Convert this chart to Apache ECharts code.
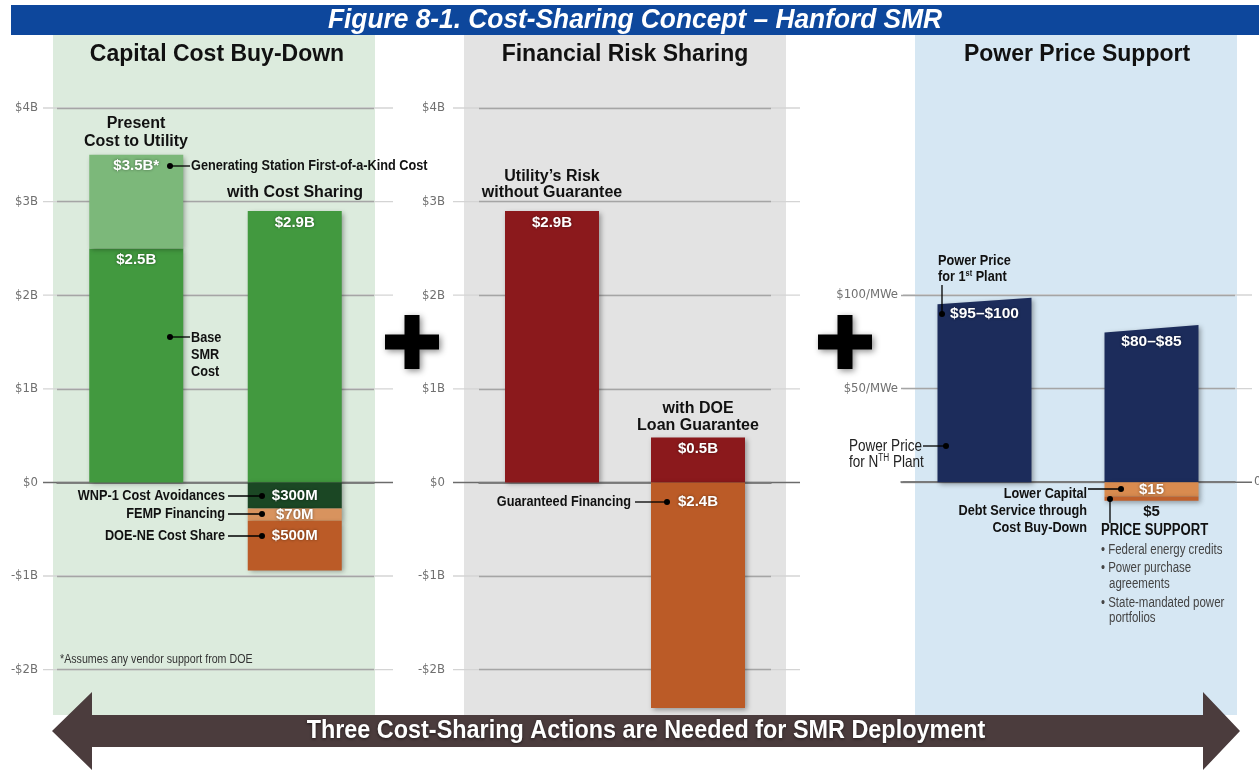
<!DOCTYPE html>
<html>
<head>
<meta charset="utf-8">
<title>Figure 8-1. Cost-Sharing Concept – Hanford SMR</title>
<script src="https://cdn.jsdelivr.net/npm/echarts@6/dist/echarts.min.js"></script>
<style>
  html, body { margin: 0; padding: 0; background: #fff; }
  #chart { width: 1259px; height: 770px; }
</style>
</head>
<body>
<div id="chart"></div>
<script>
// values (bars are drawn as in the picture, not strictly to the printed labels)
const capitalCategories = ['Present Cost to Utility', 'with Cost Sharing'];
const baseSmrCost = [2.5, 2.9];
const firstOfAKindCost = [1.0, null];
const wnp1Avoidance = [null, -0.28];
const fempFinancing = [null, -0.13];
const doeNeCostShare = [null, -0.53];
const baseLabels = ['$2.5B', '$2.9B'];
const foakLabels = ['$3.5B*', ''];
const wnp1Labels = ['', '$300M'];
const fempLabels = ['', '$70M'];
const doeNeLabels = ['', '$500M'];

const riskCategories = ['Utility\u2019s Risk without Guarantee', 'with DOE Loan Guarantee'];
const utilityRisk = [2.9, 0.48];
const guaranteedFinancing = [null, -2.41];
const riskLabels = ['$2.9B', '$0.5B'];
const guaranteedLabels = ['', '$2.4B'];

const priceCategories = ['Power Price for 1st Plant', 'Power Price for Nth Plant'];
const priceTopLeft = [95, 80];
const priceTopRight = [98.5, 84];
const priceLabels = ['$95\u2013$100', '$80\u2013$85'];
const debtServiceCut = [null, -7.7];
const priceSupport = [null, -2.2];
const debtServiceLabels = ['', '$15'];
const priceSupportLabels = ['', '$5'];

const billionTicks = [-2, -1, 0, 1, 2, 3, 4];
const billionTickLabels = ['-$2B', '-$1B', '$0', '$1B', '$2B', '$3B', '$4B'];
const priceTicks = [0, 50, 100];
const priceTickLabels = ['', '$50/MWe', '$100/MWe'];

const SANS = '"Liberation Sans", Arial, sans-serif';
const COND = '"DejaVu Sans Condensed", "Liberation Sans", sans-serif';
const NARROW_X = 0.82; // Liberation Sans squeezed to stand in for Arial Narrow
const GREEN = '#42993f', LIGHT_GREEN = '#7cb87a', DARK_GREEN = '#1b4724';
const ORANGE = '#bb5b27', LIGHT_ORANGE = '#d8935e', RED = '#8b191c', NAVY = '#1c2c5b';

const chart = echarts.init(document.getElementById('chart'));

const shadow = { shadowBlur: 5, shadowColor: 'rgba(0,0,0,0.35)', shadowOffsetX: 2, shadowOffsetY: 2 };

function barLabel(texts, position, distance, color) {
  return {
    show: true, position, distance,
    formatter: p => texts[p.dataIndex] || '',
    color: color || '#fff', fontFamily: SANS, fontWeight: 'bold', fontSize: 15,
    textShadowColor: 'rgba(0,0,0,0.45)', textShadowBlur: 3
  };
}
function bar(name, data, color, axis, stack, label) {
  return {
    name, type: 'bar', data, stack, barWidth: 94, clip: false,
    xAxisIndex: axis, yAxisIndex: axis,
    itemStyle: Object.assign({ color }, shadow),
    label
  };
}
function tickFormatter(values, labels) {
  return v => { const i = values.indexOf(v); return i < 0 ? '' : labels[i]; };
}
function yAxis(grid, min, max, interval, values, labels, margin) {
  return {
    type: 'value', gridIndex: grid, min, max, interval,
    axisLabel: { formatter: tickFormatter(values, labels), color: '#707070', fontFamily: COND, fontSize: 13, margin },
    axisLine: { show: false }, axisTick: { show: false },
    splitLine: { lineStyle: { color: '#a5a5a5', width: 1.3 } }
  };
}
function xAxis(grid, data) {
  return {
    type: 'category', gridIndex: grid, data,
    axisLabel: { show: false }, axisTick: { show: false },
    axisLine: { onZero: true, lineStyle: { color: '#6b6b6b', width: 1.5 } }
  };
}

// ---- static drawing: panels, titles, annotations ----
function txt(x, y, text, font, fill, align, extra) {
  return Object.assign({
    type: 'text', x, y, z: 50,
    style: { text, font, fill: fill || '#111', textAlign: align || 'center', textVerticalAlign: 'middle' }
  }, extra || {});
}
// narrow text: Arial-metric font squeezed horizontally
function ntxt(x, y, text, size, bold, fill, align, rich) {
  const el = txt(x, y, text, (bold ? 'bold ' : '') + size + 'px ' + SANS, fill, align, { scaleX: NARROW_X });
  if (rich) el.style.rich = rich;
  return el;
}
function dot(x, y) { return { type: 'circle', z: 50, shape: { cx: x, cy: y, r: 3 }, style: { fill: '#000' } }; }
function seg(x1, y1, x2, y2) { return { type: 'line', z: 50, shape: { x1, y1, x2, y2 }, style: { stroke: '#000', lineWidth: 1.3 } }; }
function plus(cx, cy) {
  const a = 27, t = 7.5;
  return {
    type: 'polygon', z: 50,
    shape: { points: [[cx - t, cy - a], [cx + t, cy - a], [cx + t, cy - t], [cx + a, cy - t], [cx + a, cy + t], [cx + t, cy + t],
      [cx + t, cy + a], [cx - t, cy + a], [cx - t, cy + t], [cx - a, cy + t], [cx - a, cy - t], [cx - t, cy - t]] },
    style: { fill: '#000', shadowBlur: 6, shadowColor: 'rgba(0,0,0,0.45)', shadowOffsetX: 2, shadowOffsetY: 2 }
  };
}
const B16 = 'bold 16px ' + SANS;
const supB = { sup: { font: 'bold 9px ' + SANS, fill: '#111', padding: [0, 0, 7, 0] } };
const supR = { sup: { font: '10px ' + SANS, fill: '#222', padding: [0, 0, 7, 0] } };

const graphics = [
  { type: 'rect', z: -10, shape: { x: 11, y: 5, width: 1248, height: 30 }, style: { fill: '#0d479c' } },
  txt(635, 20, 'Figure 8-1. Cost-Sharing Concept \u2013 Hanford SMR', 'italic bold 28px ' + SANS, '#fff', 'center', { scaleX: 0.94 }),
  { type: 'rect', z: -10, shape: { x: 53, y: 35, width: 322, height: 680 }, style: { fill: '#dcebdd' } },
  { type: 'rect', z: -10, shape: { x: 464, y: 35, width: 322, height: 680 }, style: { fill: '#e3e3e3' } },
  { type: 'rect', z: -10, shape: { x: 915, y: 35, width: 322, height: 680 }, style: { fill: '#d6e7f3' } },
  txt(217, 55, 'Capital Cost Buy-Down', 'bold 23px ' + SANS, '#111'),
  txt(625, 55, 'Financial Risk Sharing', 'bold 23px ' + SANS, '#111'),
  txt(1077, 55, 'Power Price Support', 'bold 23px ' + SANS, '#111'),
  plus(412, 342), plus(845, 342),

  // capital cost buy-down notes
  txt(136, 124, 'Present', B16), txt(136, 142, 'Cost to Utility', B16),
  dot(170, 166), seg(170, 166, 190, 166),
  ntxt(191, 166, 'Generating Station First-of-a-Kind Cost', 15.5, true, '#111', 'left'),
  txt(295, 193, 'with Cost Sharing', B16),
  dot(170, 337), seg(170, 337, 190, 337),
  ntxt(191, 338, 'Base', 15.5, true, '#111', 'left'), ntxt(191, 355, 'SMR', 15.5, true, '#111', 'left'),
  ntxt(191, 372, 'Cost', 15.5, true, '#111', 'left'),
  dot(262, 496), seg(228, 496, 262, 496), ntxt(225, 496, 'WNP-1 Cost Avoidances', 15.5, true, '#111', 'right'),
  dot(262, 514), seg(228, 514, 262, 514), ntxt(225, 514, 'FEMP Financing', 15.5, true, '#111', 'right'),
  dot(262, 536), seg(228, 536, 262, 536), ntxt(225, 536, 'DOE-NE Cost Share', 15.5, true, '#111', 'right'),
  ntxt(60, 659, '*Assumes any vendor support from DOE', 13, false, '#333', 'left'),

  // financial risk notes
  txt(552, 177, 'Utility\u2019s Risk', B16), txt(552, 193, 'without Guarantee', B16),
  txt(698, 409, 'with DOE', B16), txt(698, 426, 'Loan Guarantee', B16),
  dot(667, 502), seg(635, 502, 667, 502), ntxt(631, 502, 'Guaranteed Financing', 15.5, true, '#111', 'right'),

  // power price notes
  ntxt(938, 261, 'Power Price', 15.5, true, '#111', 'left'),
  ntxt(938, 277, 'for 1{sup|st} Plant', 15.5, true, '#111', 'left', supB),
  seg(942, 285, 942, 314), dot(942, 314),
  ntxt(849, 446, 'Power Price', 16.5, false, '#222', 'left'),
  ntxt(849, 462, 'for N{sup|TH} Plant', 16.5, false, '#222', 'left', supR),
  seg(923, 446, 946, 446), dot(946, 446),
  dot(1121, 489), seg(1088, 489, 1121, 489),
  ntxt(1087, 494, 'Lower Capital', 15.5, true, '#111', 'right'),
  ntxt(1087, 511, 'Debt Service through', 15.5, true, '#111', 'right'),
  ntxt(1087, 528, 'Cost Buy-Down', 15.5, true, '#111', 'right'),
  dot(1110, 499), seg(1110, 499, 1110, 523),
  ntxt(1101, 531, 'PRICE SUPPORT', 16, true, '#111', 'left'),
  ntxt(1101, 550, '\u2022 Federal energy credits', 14, false, '#444', 'left'),
  ntxt(1101, 568, '\u2022 Power purchase', 14, false, '#444', 'left'),
  ntxt(1109, 584, 'agreements', 14, false, '#444', 'left'),
  ntxt(1101, 603, '\u2022 State-mandated power', 14, false, '#444', 'left'),
  ntxt(1109, 618, 'portfolios', 14, false, '#444', 'left'),
  txt(1254, 482, '0', '13px ' + COND, '#707070', 'left'),

  // bottom arrow
  { type: 'polygon', z: 60,
    shape: { points: [[52, 731], [92, 692], [92, 715], [1203, 715], [1203, 692], [1240, 731], [1203, 770], [1203, 747], [92, 747], [92, 770]] },
    style: { fill: '#4b3c3d' } },
  txt(646, 731, 'Three Cost-Sharing Actions are Needed for SMR Deployment', 'bold 26px ' + SANS, '#fff', 'center',
    { z: 61, scaleX: 0.9 })
];
graphics[graphics.length - 1].style.textShadowColor = 'rgba(0,0,0,0.6)';
graphics[graphics.length - 1].style.textShadowBlur = 3;
graphics[graphics.length - 1].style.textShadowOffsetY = 1;

const option = {
  animation: false,
  backgroundColor: '#fff',
  grid: [
    { left: 57, top: 108, width: 317, height: 561.6 },
    { left: 479, top: 108, width: 292, height: 561.6 },
    { left: 901, top: 295, width: 334, height: 187.2 }
  ],
  xAxis: [xAxis(0, capitalCategories), xAxis(1, riskCategories), xAxis(2, priceCategories)],
  yAxis: [
    yAxis(0, -2, 4, 1, billionTicks, billionTickLabels, 19),
    yAxis(1, -2, 4, 1, billionTicks, billionTickLabels, 34),
    yAxis(2, 0, 100, 50, priceTicks, priceTickLabels, 3)
  ],
  series: [
    bar('Base SMR Cost', baseSmrCost, GREEN, 0, 'cap', barLabel(baseLabels, 'insideTop', 4)),
    bar('First-of-a-Kind Cost', firstOfAKindCost, LIGHT_GREEN, 0, 'cap', barLabel(foakLabels, 'insideTop', 4)),
    bar('WNP-1 Cost Avoidances', wnp1Avoidance, DARK_GREEN, 0, 'cap', barLabel(wnp1Labels, 'inside', 0)),
    bar('FEMP Financing', fempFinancing, LIGHT_ORANGE, 0, 'cap', barLabel(fempLabels, 'inside', 0)),
    bar('DOE-NE Cost Share', doeNeCostShare, ORANGE, 0, 'cap', barLabel(doeNeLabels, 'insideTop', 8)),
    bar('Utility Risk', utilityRisk, RED, 1, 'risk', barLabel(riskLabels, 'insideTop', 4)),
    bar('Guaranteed Financing', guaranteedFinancing, ORANGE, 1, 'risk', barLabel(guaranteedLabels, 'insideTop', 12)),
    {
      name: 'Power Price', type: 'custom', xAxisIndex: 2, yAxisIndex: 2, clip: false,
      data: priceCategories.map((c, i) => [i, priceTopLeft[i], priceTopRight[i]]),
      encode: { x: 0, y: [1, 2] },
      renderItem: (params, api) => {
        const i = api.value(0);
        const base = api.coord([i, 0]);
        const l = api.coord([i, api.value(1)]);
        const r = api.coord([i, api.value(2)]);
        const h = 47;
        return {
          type: 'group',
          children: [
            { type: 'polygon', shape: { points: [[base[0] - h, base[1]], [base[0] - h, l[1]], [base[0] + h, r[1]], [base[0] + h, base[1]]] },
              style: Object.assign({ fill: NAVY }, shadow) },
            { type: 'text', x: base[0], y: (l[1] + r[1]) / 2 + 13,
              style: { text: priceLabels[params.dataIndex], font: 'bold 15.5px ' + SANS, fill: '#fff', textAlign: 'center', textVerticalAlign: 'middle',
                textShadowColor: 'rgba(0,0,0,0.45)', textShadowBlur: 3 } }
          ]
        };
      }
    },
    bar('Lower Capital Debt Service', debtServiceCut, '#d98b4f', 2, 'price', barLabel(debtServiceLabels, 'inside', 0)),
    bar('Price Support', priceSupport, '#c0602b', 2, 'price', barLabel(priceSupportLabels, 'bottom', 4, '#111'))
  ],
  graphic: { elements: graphics }
};
option.series[option.series.length - 1].label.textShadowBlur = 0;
chart.setOption(option);

// faint grid-line extensions past each panel, placed with the axes' own scale
const extents = [[0, 43, 393, billionTicks], [1, 453, 800, billionTicks], [2, 903, 1252, priceTicks]];
extents.forEach(([axis, x1, x2, ticks]) => {
  ticks.forEach(v => {
    const y = chart.convertToPixel({ yAxisIndex: axis }, v);
    graphics.push({ type: 'line', z: -5, shape: { x1, y1: y, x2, y2: y },
      style: { stroke: v === 0 ? '#6b6b6b' : '#d4d4d4', lineWidth: v === 0 ? 1.5 : 1.3 } });
  });
});
chart.setOption({ graphic: { elements: graphics } });
</script>
</body>
</html>
